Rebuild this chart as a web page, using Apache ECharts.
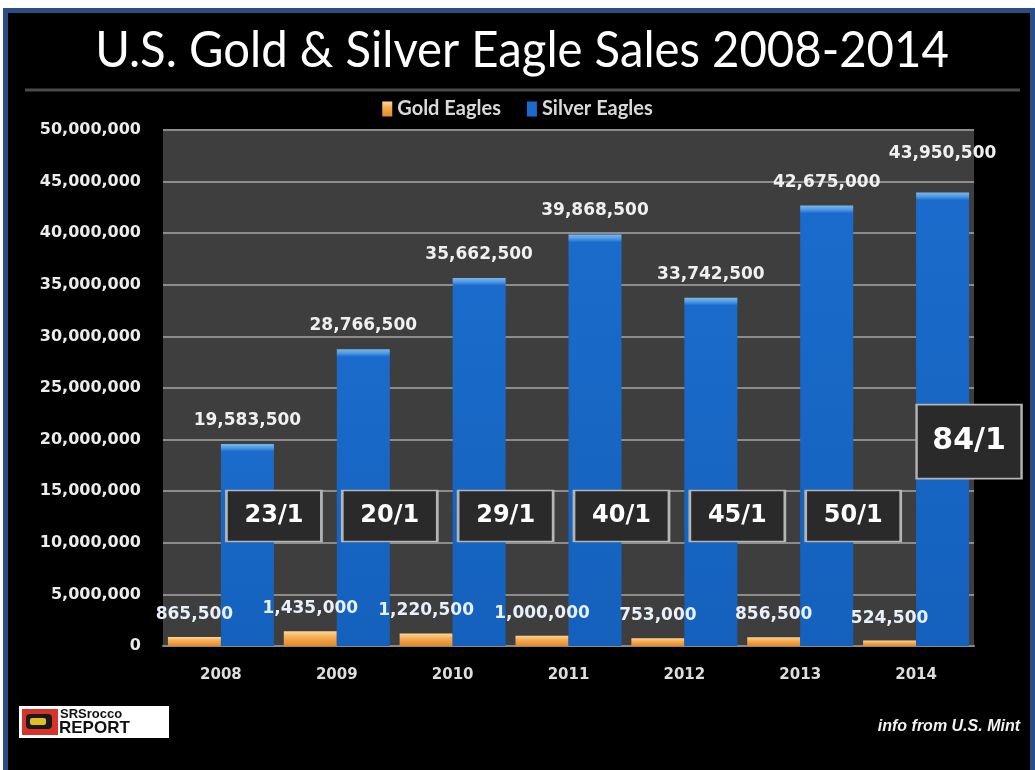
<!DOCTYPE html>
<html>
<head>
<meta charset="utf-8">
<script src="https://cdn.jsdelivr.net/npm/echarts@6/dist/echarts.min.js"></script>
<style>
  html, body { margin:0; padding:0; background:#fff; }
  #frame { position:absolute; left:3px; top:8px; width:1032px; height:762px; box-sizing:border-box;
           border:5px solid #2b4c84; border-bottom:none; background:#000; }
  #main { position:absolute; left:0; top:0; width:1035px; height:770px; }
</style>
</head>
<body>
<div id="frame"></div>
<div id="main"></div>
<script>
const categories = ['2008', '2009', '2010', '2011', '2012', '2013', '2014'];
const goldEagles = [865500, 1435000, 1220500, 1000000, 753000, 856500, 524500];
const silverEagles = [19583500, 28766500, 35662500, 39868500, 33742500, 42675000, 43950500];
const yMax = 50000000;
const yInterval = 5000000;

const fmt = v => Number(v).toLocaleString('en-US');
const plotHeight = 516;

const silverData = silverEagles.map((v, i) => {
  const h = v / yMax * plotHeight;
  const f = Math.min(0.5, 7 / h);
  return {
    value: v,
    label: i === 6 ? { distance: 30 } : undefined,
    itemStyle: {
      color: {
        type: 'linear', x: 0, y: 0, x2: 0, y2: 1,
        colorStops: [
          { offset: 0, color: '#7ab8f0' },
          { offset: f * 0.6, color: '#4d98e2' },
          { offset: f, color: '#2274d2' },
          { offset: Math.min(1, f + 0.002), color: '#1a6bcb' },
          { offset: 1, color: '#1461bd' }
        ]
      }
    }
  };
});

const ratioData = silverEagles.map((s, i) => {
  const big = i === 6;
  return {
    coord: [i, big ? 19800000 : 12600000],
    value: Math.round(s / goldEagles[i]) + '/1',
    symbolSize: big ? [105, 74] : [95, 51],
    label: { fontSize: big ? 30 : 24 }
  };
});

const chart = echarts.init(document.getElementById('main'), null, { renderer: 'canvas' });
chart.setOption({
  backgroundColor: 'transparent',
  animation: false,
  graphic: [
    { type: 'line', shape: { x1: 25, y1: 90, x2: 1020, y2: 90 },
      style: { stroke: '#4a4a4a', lineWidth: 3 } },
    { type: 'text', x: 522, y: 51, scaleX: 0.945,
      style: { text: 'U.S. Gold & Silver Eagle Sales 2008-2014', fill: '#ffffff',
               font: '50px Lato', textAlign: 'center', textVerticalAlign: 'middle',
               align: 'center', verticalAlign: 'middle' } },
    { type: 'rect', shape: { x: 19, y: 706, width: 150, height: 32 },
      style: { fill: '#ffffff' } },
    { type: 'rect', shape: { x: 22, y: 709, width: 36, height: 26 },
      style: { fill: '#d8322b' } },
    { type: 'rect', shape: { x: 26, y: 714, width: 26, height: 15, r: 4 },
      style: { fill: '#1a1a1a' } },
    { type: 'rect', shape: { x: 30, y: 718, width: 16, height: 7, r: 2 },
      style: { fill: '#e0c020' } },
    { type: 'text', x: 60, y: 708,
      style: { text: 'SRSrocco', fill: '#111', font: 'bold 13px "Liberation Sans"' } },
    { type: 'text', x: 59, y: 720,
      style: { text: 'REPORT', fill: '#111', font: 'bold 17px "Liberation Sans"' } },
    { type: 'text', x: 1020, y: 727,
      style: { text: 'info from U.S. Mint', fill: '#f2f2f2',
               font: 'italic bold 16px "Liberation Sans"', textAlign: 'right', textVerticalAlign: 'middle',
               align: 'right', verticalAlign: 'middle' } }
  ],
  legend: {
    top: 94, left: 'center',
    itemWidth: 10, itemHeight: 15, itemGap: 26,
    icon: 'rect',
    textStyle: { color: '#d9d9d9', fontSize: 20, fontWeight: 'bold', fontFamily: 'Lato' },
    data: ['Gold Eagles', 'Silver Eagles']
  },
  grid: {
    left: 163, right: 61, top: 130, bottom: 124,
    show: true, backgroundColor: '#3e3e3e', borderWidth: 0
  },
  xAxis: {
    type: 'category',
    data: categories,
    axisLine: { lineStyle: { color: '#8a8a8a', width: 2 } },
    axisTick: { show: false },
    axisLabel: { color: '#dedede', fontSize: 15, fontWeight: 'bold', fontFamily: 'DejaVu Sans', margin: 22 }
  },
  yAxis: {
    type: 'value',
    min: 0, max: yMax, interval: yInterval,
    axisLine: { show: false },
    axisTick: { show: false },
    splitLine: { lineStyle: { color: '#8c8c8c', width: 2 } },
    axisLabel: { color: '#ececec', fontSize: 16, fontWeight: 'bold', fontFamily: 'DejaVu Sans',
                 margin: 22, formatter: v => fmt(v) }
  },
  series: [
    {
      name: 'Gold Eagles',
      type: 'bar',
      data: goldEagles,
      barWidth: 53,
      barGap: '0%',
      itemStyle: {
        color: {
          type: 'linear', x: 0, y: 0, x2: 0, y2: 1,
          colorStops: [
            { offset: 0, color: '#fcd894' },
            { offset: 0.4, color: '#f6ad55' },
            { offset: 1, color: '#e3862a' }
          ]
        }
      },
      label: {
        show: true, position: 'top', distance: 14,
        color: '#e8f0fb', fontSize: 17, fontWeight: 'bold', fontFamily: 'DejaVu Sans',
        formatter: p => fmt(p.value)
      }
    },
    {
      name: 'Silver Eagles',
      type: 'bar',
      data: silverData,
      barWidth: 53,
      barGap: '0%',
      itemStyle: { color: '#1a6bcb' },
      label: {
        show: true, position: 'top', distance: 15,
        color: '#f0f0f0', fontSize: 17, fontWeight: 'bold', fontFamily: 'DejaVu Sans',
        formatter: p => fmt(p.value)
      },
      markPoint: {
        symbol: 'rect',
        symbolOffset: [26.5, 0],
        itemStyle: { color: '#2a2a2a', borderColor: '#b5b5b5', borderWidth: 2 },
        label: {
          show: true, position: 'inside', color: '#ffffff',
          fontWeight: 'bold', fontFamily: 'DejaVu Sans',
          formatter: p => p.value
        },
        data: ratioData
      }
    }
  ]
});
</script>
</body>
</html>
